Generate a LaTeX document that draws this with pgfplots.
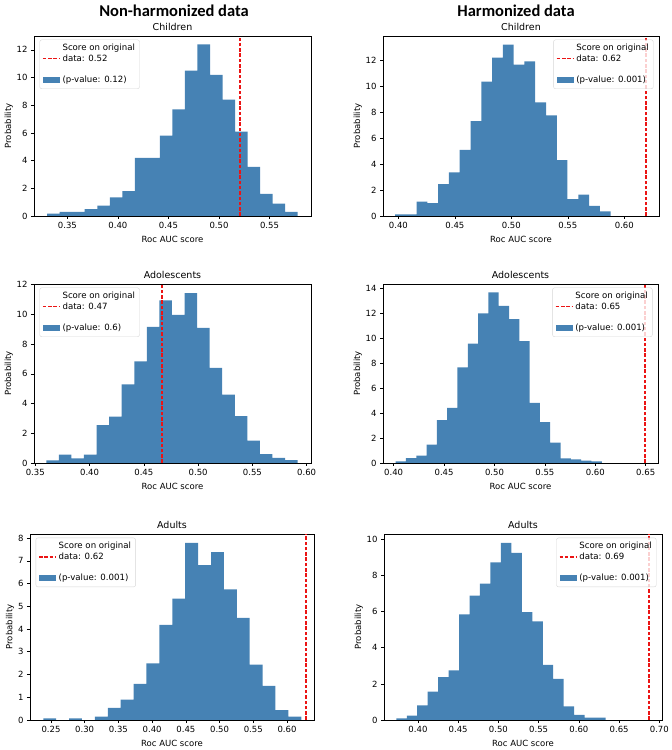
\documentclass[border=0pt]{standalone}
\usepackage{pgfplots}
\pgfplotsset{compat=1.18}
\usepackage{fontspec}
\setmainfont{DejaVu Sans}
\newfontfamily\titlefont{Carlito}
\definecolor{barblue}{RGB}{70,130,180}
\definecolor{myred}{RGB}{235,20,20}
\pgfplotsset{
  hist/.style={
    scale only axis,
    axis line style={black, line width=0.6pt},
    tick align=outside,
    xtick pos=left, ytick pos=left,
    major tick length=3pt,
    tick style={black, line width=0.6pt},
    ymin=0,
    tick label style={font=\fontsize{8.5}{10}\selectfont},
    label style={font=\fontsize{8.5}{10}\selectfont},
    title style={font=\fontsize{9.5}{11}\selectfont, yshift=-4.5pt},
    xlabel={Roc AUC score},
    ylabel={Probability},
    ylabel style={yshift=-3pt},
    xticklabel style={/pgf/number format/.cd, fixed, fixed zerofill, precision=2},
    /pgf/number format/assume math mode=true,
    legend cell align=left,
    legend style={draw=black!20, fill=white, fill opacity=0.8, draw opacity=0.8, text opacity=1,
      rounded corners=2pt, font=\fontsize{8.6}{9.8}\selectfont, row sep=-1.5pt, inner sep=2.5pt},
  },
  hl/.style={legend style={at={(0.02,0.98)}, anchor=north west}},
  hr/.style={legend style={at={(0.98,0.98)}, anchor=north east}},
  bars/.style={ybar interval, fill=barblue, draw=none, forget plot},
  redline/.style={draw=myred, line width=1.8pt, dash pattern=on 3.5pt off 1.8pt, forget plot},
  redleg/.style={legend image code/.code={\path[draw=myred, fill=none, draw opacity=1, sharp corners, line width=1.3pt, dash pattern=on 3.5pt off 1.8pt] (0pt,0pt) -- (17pt,0pt);}},
  blueleg/.style={legend image code/.code={\path[fill=barblue, draw=none, fill opacity=1, sharp corners] (0pt,-3pt) rectangle (17pt,3pt);}},
}
\newcommand{\mylegend}[2]{%
  \addlegendimage{empty legend}\addlegendentry{Score on original}
  \addlegendimage{redleg}\addlegendentry{data: #1}
  \addlegendimage{empty legend}\addlegendentry{\strut}
  \addlegendimage{blueleg}\addlegendentry{(p-value: #2)}
}
\begin{document}
\begin{tikzpicture}[x=1pt,y=1pt]
\useasboundingbox (0,0) rectangle (672,750);
\node[font=\titlefont\bfseries\fontsize{16.5}{19}\selectfont] at (174,739) {Non-harmonized data};
\node[font=\titlefont\bfseries\fontsize{16.5}{19}\selectfont] at (516,739) {Harmonized data};

% P1
\begin{axis}[hist, hl, at={(34pt,534pt)}, anchor=south west, width=277pt, height=180pt,
  xmin=0.317, xmax=0.591, ymax=13.0, xtick={0.35,0.40,0.45,0.50,0.55}, ytick={0,2,...,12}, title={Children}]
\addplot[bars] coordinates {(0.3300,0.17) (0.3424,0.29) (0.3548,0.29) (0.3672,0.5) (0.3796,0.75) (0.3920,1.35) (0.4043,1.8) (0.4167,4.2) (0.4291,4.2) (0.4415,5.8) (0.4539,7.7) (0.4663,10.5) (0.4787,12.4) (0.4911,10.2) (0.5035,8.4) (0.5159,6.1) (0.5282,3.55) (0.5406,1.6) (0.5530,0.9) (0.5654,0.29) (0.5778,0.29)};
\addplot[redline] coordinates {(0.5204,0) (0.5204,13.0)};
\mylegend{0.52}{0.12}
\end{axis}

% P2
\begin{axis}[hist, hr, at={(383pt,534pt)}, anchor=south west, width=276pt, height=180pt,
  xmin=0.3864, xmax=0.6307, ymax=13.86, xtick={0.40,0.45,0.50,0.55,0.60}, ytick={0,2,...,12}, title={Children}]
\addplot[bars] coordinates {(0.3971,0.12) (0.4066,0.12) (0.4162,1.1) (0.4257,1.0) (0.4353,2.45) (0.4448,3.35) (0.4543,5.1) (0.4639,7.3) (0.4734,10.35) (0.4830,12.2) (0.4925,13.2) (0.5020,11.65) (0.5116,11.9) (0.5211,8.75) (0.5307,7.75) (0.5402,4.3) (0.5497,1.3) (0.5593,1.65) (0.5688,0.77) (0.5784,0.35) (0.5879,0.35)};
\addplot[redline] coordinates {(0.6195,0) (0.6195,13.86)};
\mylegend{0.62}{0.001}
\end{axis}

% P3
\begin{axis}[hist, hl, at={(34pt,287pt)}, anchor=south west, width=277pt, height=179pt,
  xmin=0.3488, xmax=0.604, ymax=12.05, xtick={0.35,0.40,0.45,0.50,0.55,0.60}, ytick={0,2,...,12}, title={Adolescents}]
\addplot[bars] coordinates {(0.3601,0.18) (0.3717,0.56) (0.3833,0.31) (0.3948,0.56) (0.4064,2.55) (0.4180,3.13) (0.4296,5.3) (0.4412,6.84) (0.4527,9.16) (0.4643,10.95) (0.4759,9.97) (0.4875,11.44) (0.4991,9.1) (0.5106,6.41) (0.5222,4.6) (0.5338,3.15) (0.5454,1.5) (0.5570,0.6) (0.5685,0.34) (0.5801,0.2) (0.5917,0.2)};
\addplot[redline] coordinates {(0.4665,0) (0.4665,12.05)};
\mylegend{0.47}{0.6}
\end{axis}

% P4
\begin{axis}[hist, hr, at={(383pt,287pt)}, anchor=south west, width=275pt, height=179pt,
  xmin=0.3894, xmax=0.6622, ymax=14.38, xtick={0.40,0.45,0.50,0.55,0.60,0.65}, ytick={0,2,...,14}, title={Adolescents}]
\addplot[bars] coordinates {(0.4020,0.13) (0.4122,0.4) (0.4224,0.59) (0.4327,1.47) (0.4429,3.45) (0.4531,4.42) (0.4633,7.68) (0.4735,9.58) (0.4838,12.02) (0.4940,13.7) (0.5042,12.62) (0.5144,11.56) (0.5246,9.8) (0.5349,4.82) (0.5451,3.29) (0.5553,1.63) (0.5655,0.37) (0.5757,0.3) (0.5860,0.19) (0.5962,0.13) (0.6064,0.13)};
\addplot[redline] coordinates {(0.6495,0) (0.6495,14.38)};
\mylegend{0.65}{0.001}
\end{axis}

% P5
\begin{axis}[hist, hl, at={(30pt,30pt)}, anchor=south west, width=284pt, height=186pt,
  xmin=0.2189, xmax=0.640, ymax=8.18, xtick={0.25,0.30,0.35,0.40,0.45,0.50,0.55,0.60}, ytick={0,1,...,8}, title={Adults}]
\addplot[bars] coordinates {(0.2386,0.07) (0.2577,0) (0.2769,0.07) (0.2960,0) (0.3151,0.15) (0.3343,0.53) (0.3534,0.9) (0.3725,1.59) (0.3916,2.49) (0.4108,4.18) (0.4299,5.34) (0.4490,7.79) (0.4682,6.81) (0.4873,7.38) (0.5064,5.75) (0.5256,4.49) (0.5447,2.44) (0.5638,1.5) (0.5829,0.43) (0.6021,0.15) (0.6212,0.15)};
\addplot[redline] coordinates {(0.6286,0) (0.6286,8.18)};
\mylegend{0.62}{0.001}
\end{axis}

% P6
\begin{axis}[hist, hr, at={(384pt,30pt)}, anchor=south west, width=278pt, height=186pt,
  xmin=0.3578, xmax=0.7033, ymax=10.29, xtick={0.40,0.45,0.50,0.55,0.60,0.65,0.70}, ytick={0,2,...,10}, title={Adults}]
\addplot[bars] coordinates {(0.3731,0.09) (0.3861,0.24) (0.3991,0.81) (0.4121,1.57) (0.4251,2.37) (0.4381,2.75) (0.4511,5.84) (0.4641,6.88) (0.4771,7.54) (0.4901,8.72) (0.5031,9.8) (0.5161,9.24) (0.5291,5.97) (0.5421,5.45) (0.5551,3.05) (0.5681,2.27) (0.5811,0.76) (0.5941,0.28) (0.6071,0.13) (0.6201,0.13) (0.6331,0.13)};
\addplot[redline] coordinates {(0.6876,0) (0.6876,10.29)};
\mylegend{0.69}{0.001}
\end{axis}
\end{tikzpicture}
\end{document}
